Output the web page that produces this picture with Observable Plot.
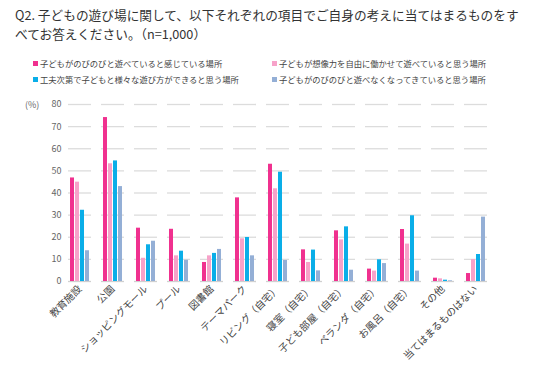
<!DOCTYPE html>
<html>
<head>
<meta charset="utf-8">
<script src="https://cdn.jsdelivr.net/npm/d3@7"></script>
<script src="https://cdn.jsdelivr.net/npm/@observablehq/plot@0.6"></script>
<style>
  html, body { margin: 0; padding: 0; background: #fff; }
  body { width: 536px; height: 366px; position: relative; overflow: hidden;
         font-family: "Noto Sans CJK JP", "Noto Sans", sans-serif; color: #333; }
  #title { position: absolute; left: 15px; top: 5px; font-size: 12.7px; line-height: 19px; white-space: nowrap; color: #333; }
  .lg { position: absolute; font-size: 8.3px; white-space: nowrap; color: #444; line-height: 10px; }
  .lg i { display: inline-block; width: 5px; height: 5px; margin-right: 2px; vertical-align: 1px; }
  #unit { position: absolute; left: 25px; top: 98px; font-size: 9px; color: #666; z-index: 2; }
  #chart { position: absolute; left: 0; top: 90px; z-index: 1; }
</style>
</head>
<body>
<div id="title"></div>
<div id="legend"></div>
<div id="chart"></div>
<div id="unit">(%)</div>
<script>
const titleLines = [
  "Q2. 子どもの遊び場に関して、以下それぞれの項目でご自身の考えに当てはまるものをす",
  "べてお答えください。（n=1,000）"
];
const categories = ["教育施設","公園","ショッピングモール","プール","図書館","テーマパーク","リビング（自宅）","寝室（自宅）","子ども部屋（自宅）","ベランダ（自宅）","お風呂（自宅）","その他","当てはまるものはない"];
const seriesNames = [
  "子どもがのびのびと遊べていると感じている場所",
  "子どもが想像力を自由に働かせて遊べていると思う場所",
  "工夫次第で子どもと様々な遊び方ができると思う場所",
  "子どもがのびのびと遊べなくなってきていると思う場所"
];
const seriesColors = ["#f0318f", "#f7a2c9", "#0aaee8", "#94afd6"];
const s1 = [46.8, 74.1, 24.1, 23.6, 8.6, 37.8, 53.0, 14.3, 22.9, 5.6, 23.5, 1.5, 3.6];
const s2 = [44.9, 53.2, 10.5, 11.6, 11.6, 19.3, 41.9, 8.6, 18.8, 4.7, 16.9, 1.2, 9.9];
const s3 = [32.2, 54.5, 16.6, 13.7, 12.7, 19.9, 49.4, 14.2, 24.7, 9.8, 29.7, 0.6, 12.2];
const s4 = [13.9, 42.9, 18.2, 9.6, 14.5, 11.6, 9.5, 4.8, 5.1, 8.1, 4.7, 0.3, 29.1];
const yTicks = [0, 10, 20, 30, 40, 50, 60, 70, 80];

document.getElementById("title").innerHTML = titleLines.join("<br>");

const legendPos = [[33, 58], [272, 58], [33, 74], [272, 74]];
const legendEl = document.getElementById("legend");
seriesNames.forEach((name, i) => {
  const d = document.createElement("div");
  d.className = "lg";
  d.style.left = legendPos[i][0] + "px";
  d.style.top = legendPos[i][1] + "px";
  d.innerHTML = `<i style="background:${seriesColors[i]}"></i>${name}`;
  legendEl.appendChild(d);
});

const allSeries = [s1, s2, s3, s4];
const data = categories.flatMap((c, ci) => seriesNames.map((s, si) => ({category: c, series: s, value: allSeries[si][ci]})));

const chart = Plot.plot({
  width: 536,
  height: 276,
  marginTop: 14,
  marginBottom: 85,
  marginLeft: 62,
  marginRight: 43,
  style: {fontFamily: "'Noto Sans CJK JP', sans-serif", background: "transparent"},
  fx: {domain: categories, paddingInner: 0.3, paddingOuter: 0.15, label: null},
  x: {domain: seriesNames, padding: 0.12, axis: null},
  y: {domain: [0, 80], label: null},
  color: {domain: seriesNames, range: seriesColors},
  marks: [
    Plot.gridY(yTicks.filter(d => d > 0), {stroke: "#dcdcdc", strokeOpacity: 1, strokeWidth: 1.3}),
    Plot.ruleY([0], {stroke: "#d0d0d0", strokeWidth: 1.3}),
    Plot.axisY({ticks: yTicks, tickSize: 0, tickPadding: 7, fontSize: 9, fill: "#666", label: null}),
    Plot.axisFx({anchor: "bottom", tickRotate: -45, tickSize: 0, tickPadding: 6, fontSize: 10, fill: "#444", label: null}),
    Plot.barY(data, {fx: "category", x: "series", y: "value", fill: "series"})
  ]
});
document.getElementById("chart").appendChild(chart);
</script>
</body>
</html>
